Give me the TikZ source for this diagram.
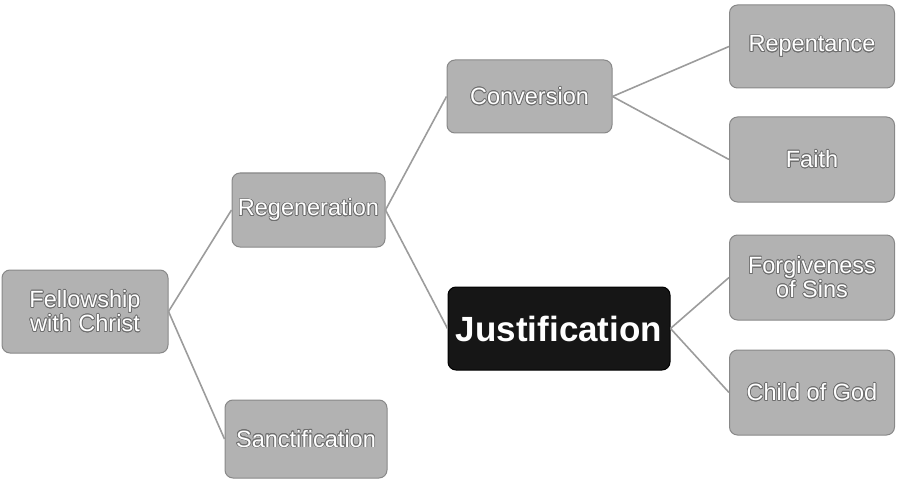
\documentclass[tikz,border=0pt]{standalone}
\usepackage{fontspec}
\setmainfont{Liberation Sans}
\usepackage{contour}
\contourlength{0.7pt}
\contournumber{16}
\definecolor{boxfill}{HTML}{B2B2B2}
\definecolor{boxdraw}{HTML}{888888}
\definecolor{linec}{HTML}{9C9C9C}
\definecolor{txtline}{HTML}{6E6E6E}
\definecolor{darkfill}{HTML}{161616}
\newcommand{\ot}[1]{\contour{txtline}{#1}}
\begin{document}
\begin{tikzpicture}[x=1pt,y=-1pt,
  box/.style={draw=boxdraw,fill=boxfill,rounded corners=8pt,line width=1pt,inner sep=0pt,
    align=center,text=white,font=\fontsize{23.5}{24}\selectfont},
  darkbox/.style={draw=black,fill=darkfill,rounded corners=8pt,line width=1pt,inner sep=0pt,
    align=center,text=white,font=\fontsize{35}{36}\selectfont\bfseries},
  conn/.style={draw=linec,line width=1.6pt}]
\useasboundingbox (0,0) rectangle (897,484);
\node[box,minimum width=166pt,minimum height=83pt] (F) at (85,311.5) {\ot{Fellowship}\\\ot{with Christ}};
\node[box,minimum width=153pt,minimum height=74pt] (R) at (308.5,210) {\ot{Regeneration}};
\node[box,minimum width=162pt,minimum height=78pt] (S) at (306,439) {\ot{Sanctification}};
\node[box,minimum width=165pt,minimum height=73pt] (C) at (529.5,96.5) {\ot{Conversion}};
\node[darkbox,minimum width=222pt,minimum height=83pt] (J) at (559,328.5) {Justification};
\node[box,minimum width=165pt,minimum height=83pt] (Rp) at (812,46.5) {\ot{Repentance}};
\node[box,minimum width=165pt,minimum height=85pt] (Fa) at (812,159.5) {\ot{Faith}};
\node[box,minimum width=165pt,minimum height=85pt] (Fo) at (812,277.5) {\ot{Forgiveness}\\\ot{of Sins}};
\node[box,minimum width=165pt,minimum height=85pt] (Cg) at (812,392.5) {\ot{Child of God}};
\draw[conn] (F.east) -- (R.west);
\draw[conn] (F.east) -- (S.west);
\draw[conn] (R.east) -- (C.west);
\draw[conn] (R.east) -- (J.west);
\draw[conn] (C.east) -- (Rp.west);
\draw[conn] (C.east) -- (Fa.west);
\draw[conn] (J.east) -- (Fo.west);
\draw[conn] (J.east) -- (Cg.west);
\end{tikzpicture}
\end{document}
